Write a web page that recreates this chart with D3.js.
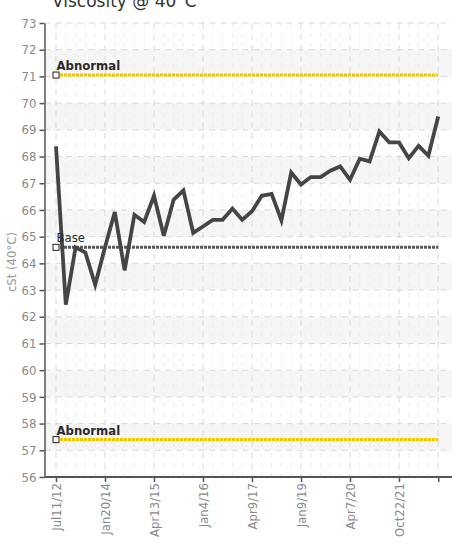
<!DOCTYPE html>
<html>
<head>
<meta charset="utf-8">
<script src="https://cdn.jsdelivr.net/npm/d3@7"></script>
<style>
  body { margin: 0; background: #fff; }
  svg { display: block; }
  .axis text { font-family: "Liberation Sans Narrow", "DejaVu Sans Condensed", sans-serif; font-size: 13px; fill: #8a8a8a; }
  .axis path, .axis line { stroke: #555; stroke-width: 1.5; }
  .grid { stroke: #d9d9d9; stroke-width: 1; stroke-dasharray: 6,5; }
  .grid.minor { stroke: #ececec; stroke-dasharray: 4,6; }
  .band { fill: #f6f6f6; }
  .series { fill: none; stroke: #454545; stroke-width: 3.8; stroke-linejoin: miter; }
  .limit { fill: none; stroke-width: 3; stroke-dasharray: 3,1; }
  .marker { fill: #fff; stroke: #222; stroke-width: 1; }
  .limit-label { font-family: "Liberation Sans Narrow", "DejaVu Sans Condensed", sans-serif; font-size: 13px; fill: #2a2a2a; }
</style>
</head>
<body>
<script>
// readings, one per sample (cSt @ 40C)
var viscosity = [68.38, 62.45, 64.6, 64.4, 63.2, 64.6, 65.92, 63.74, 65.82, 65.55,
                 66.53, 65.03, 66.38, 66.73, 65.14, 65.38, 65.63, 65.63, 66.05, 65.63,
                 65.95, 66.53, 66.6, 65.61, 67.4, 66.95, 67.23, 67.23, 67.47, 67.63,
                 67.13, 67.92, 67.82, 68.94, 68.53, 68.53, 67.94, 68.4, 68.03, 69.5];

var tickIndex = [0, 5, 10, 15, 20, 25, 30, 35, 39];
var tickLabels = ["Jul11/12", "Jan20/14", "Apr13/15", "Jan4/16", "Apr9/17",
                  "Jan9/19", "Apr7/20", "Oct22/21", ""];
var yTicks = d3.range(56, 74);

var baseValue = 64.6;
var abnormalHigh = 71.05;
var abnormalLow = 57.4;

var width = 452, height = 549;
var plotLeft = 44.5, plotRight = 452, plotTop = 23, plotBottom = 477;

var x = d3.scaleLinear().domain([0, viscosity.length - 1]).range([56, 438.2]);
var y = d3.scaleLinear().domain([56, 73]).range([plotBottom, plotTop]);

var svg = d3.select("body").append("svg")
    .attr("width", width)
    .attr("height", height);

// title, mostly cut off at the top
svg.append("text")
    .attr("x", 52)
    .attr("y", 7)
    .style("font-family", "'DejaVu Sans', sans-serif")
    .style("font-size", "17px")
    .style("fill", "#333")
    .text("Viscosity @ 40°C");

// alternating bands
svg.selectAll(".band")
    .data(yTicks.filter(function(d) { return d % 2 === 1 && d < 73; }))
  .enter().append("rect")
    .attr("class", "band")
    .attr("x", plotLeft)
    .attr("width", plotRight - plotLeft)
    .attr("y", function(d) { return y(d + 1); })
    .attr("height", function(d) { return y(d) - y(d + 1); });

// minor vertical grid, one per sample
svg.selectAll(".vminor")
    .data(d3.range(viscosity.length).filter(function(i) { return tickIndex.indexOf(i) < 0; }))
  .enter().append("line")
    .attr("class", "grid minor")
    .attr("x1", function(d) { return x(d); })
    .attr("x2", function(d) { return x(d); })
    .attr("y1", plotTop)
    .attr("y2", plotBottom);

// major vertical grid
svg.selectAll(".vmajor")
    .data(tickIndex)
  .enter().append("line")
    .attr("class", "grid")
    .attr("x1", function(d) { return x(d); })
    .attr("x2", function(d) { return x(d); })
    .attr("y1", plotTop)
    .attr("y2", plotBottom);

// horizontal grid
svg.selectAll(".hgrid")
    .data(yTicks)
  .enter().append("line")
    .attr("class", "grid")
    .attr("x1", plotLeft)
    .attr("x2", plotRight)
    .attr("y1", function(d) { return y(d); })
    .attr("y2", function(d) { return y(d); });

// limit lines
var limits = [
  {value: abnormalHigh, label: "Abnormal", color: "#f5c400"},
  {value: baseValue, label: "Base", color: "#5a5a5a"},
  {value: abnormalLow, label: "Abnormal", color: "#f5c400"}
];

limits.forEach(function(l) {
  svg.append("line")
      .attr("class", "limit")
      .style("stroke", l.color)
      .attr("x1", x(0) + 4)
      .attr("x2", x(viscosity.length - 1))
      .attr("y1", y(l.value))
      .attr("y2", y(l.value));
});

// the series
svg.append("path")
    .datum(viscosity)
    .attr("class", "series")
    .attr("d", d3.line()
        .x(function(d, i) { return x(i); })
        .y(function(d) { return y(d); }));

limits.forEach(function(l) {
  svg.append("rect")
      .attr("class", "marker")
      .attr("x", x(0) - 3)
      .attr("y", y(l.value) - 3)
      .attr("width", 6)
      .attr("height", 6);
  svg.append("text")
      .attr("class", "limit-label")
      .attr("x", x(0) + 0.5)
      .attr("y", y(l.value) - 5)
      .style("font-weight", l.label === "Abnormal" ? "bold" : "normal")
      .text(l.label);
});

// Y axis
svg.append("g")
    .attr("class", "axis")
    .attr("transform", "translate(" + plotLeft + ",0)")
    .call(d3.axisLeft(y).tickValues(yTicks).tickSizeInner(5).tickSizeOuter(0).tickPadding(3));

// X axis
var xAxis = svg.append("g")
    .attr("class", "axis")
    .attr("transform", "translate(0," + plotBottom + ")")
    .call(d3.axisBottom(x)
        .tickValues(tickIndex)
        .tickSizeInner(5)
        .tickSizeOuter(0)
        .tickFormat(function(d) { return tickLabels[tickIndex.indexOf(d)]; }));

xAxis.select(".domain").remove();
xAxis.append("line")
    .attr("x1", plotLeft)
    .attr("x2", plotRight)
    .style("stroke", "#555")
    .style("stroke-width", 2);

xAxis.selectAll("text")
    .attr("x", -6)
    .attr("y", 0)
    .attr("dy", "0.35em")
    .attr("transform", "rotate(-90)")
    .style("text-anchor", "end");

svg.append("text")
    .attr("transform", "rotate(-90)")
    .attr("x", -262)
    .attr("y", 16)
    .attr("text-anchor", "middle")
    .style("font-family", "'Liberation Sans Narrow', 'DejaVu Sans Condensed', sans-serif")
    .style("font-size", "13px")
    .style("fill", "#999")
    .text("cSt (40°C)");
</script>
</body>
</html>
